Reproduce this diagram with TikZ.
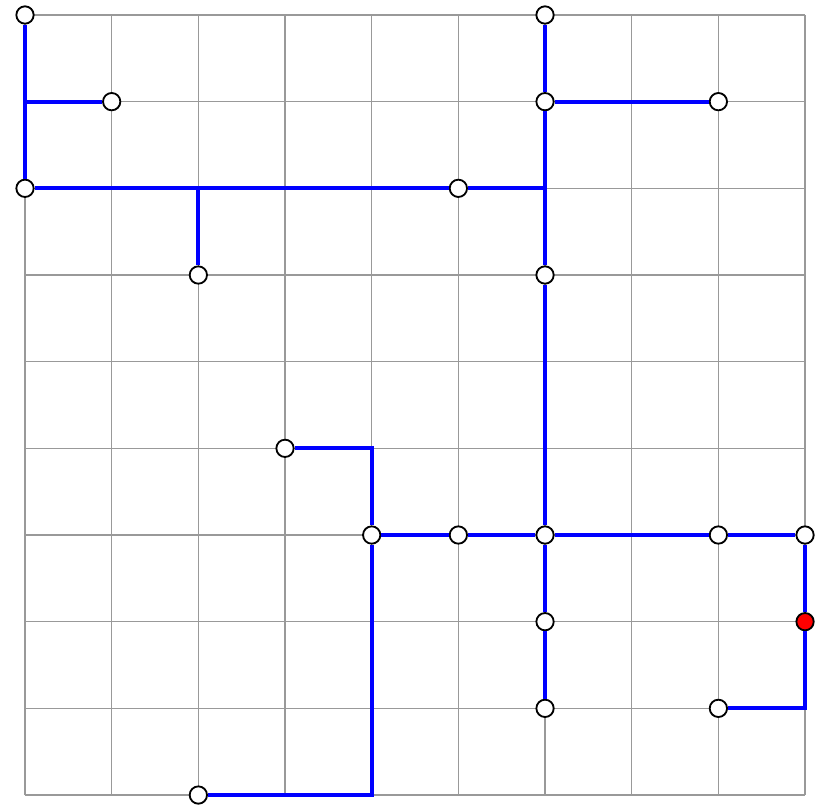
\documentclass[tikz,border=0pt]{standalone}
\begin{document}
\begin{tikzpicture}[
  gridline/.style={draw=gray!80, line width=0.5pt},
  path/.style={draw=blue, line width=1.35pt},
  vtx/.style={circle, draw=black, line width=0.6pt, fill=white, minimum size=0.2cm, inner sep=0pt},
  goal/.style={vtx, fill=red}
]
\useasboundingbox (-0.2885,-0.104) rectangle (9.161,9.173);
\draw[gridline] (0,0) grid (9,9);
% junction coordinates
\coordinate (j01) at (0,8);
\coordinate (j22) at (2,7);
\coordinate (j62) at (6,7);
\coordinate (j45) at (4,4);
\coordinate (j49) at (4,0);
\coordinate (j98) at (9,1);
% nodes (col,row from top)
\node[vtx] (n00) at (0,9) {};
\node[vtx] (n60) at (6,9) {};
\node[vtx] (n11) at (1,8) {};
\node[vtx] (n61) at (6,8) {};
\node[vtx] (n81) at (8,8) {};
\node[vtx] (n02) at (0,7) {};
\node[vtx] (n52) at (5,7) {};
\node[vtx] (n23) at (2,6) {};
\node[vtx] (n63) at (6,6) {};
\node[vtx] (n35) at (3,4) {};
\node[vtx] (n46) at (4,3) {};
\node[vtx] (n56) at (5,3) {};
\node[vtx] (n66) at (6,3) {};
\node[vtx] (n86) at (8,3) {};
\node[vtx] (n96) at (9,3) {};
\node[vtx] (n67) at (6,2) {};
\node[goal] (n97) at (9,2) {};
\node[vtx] (n68) at (6,1) {};
\node[vtx] (n88) at (8,1) {};
\node[vtx] (n29) at (2,0) {};
% paths
\path[path] (n00.south) -- (n02.north);
\path[path] (j01) -- (n11.west);
\path[path] (n02.east) -- (n52.west);
\path[path] (n52.east) -- (j62);
\path[path] (j22) -- (n23.north);
\path[path] (n60.south) -- (n61.north);
\path[path] (n61.south) -- (n63.north);
\path[path] (n61.east) -- (n81.west);
\path[path] (n63.south) -- (n66.north);
\path[path] (n66.south) -- (n67.north);
\path[path] (n67.south) -- (n68.north);
\path[path, line join=miter] (n35.east) -- (j45) -- (n46.north);
\path[path, line join=miter] (n46.south) -- (j49) -- (n29.east);
\path[path] (n46.east) -- (n56.west);
\path[path] (n56.east) -- (n66.west);
\path[path] (n66.east) -- (n86.west);
\path[path] (n86.east) -- (n96.west);
\path[path] (n96.south) -- (n97.north);
\path[path, line join=miter] (n97.south) -- (j98) -- (n88.east);
\end{tikzpicture}
\end{document}
